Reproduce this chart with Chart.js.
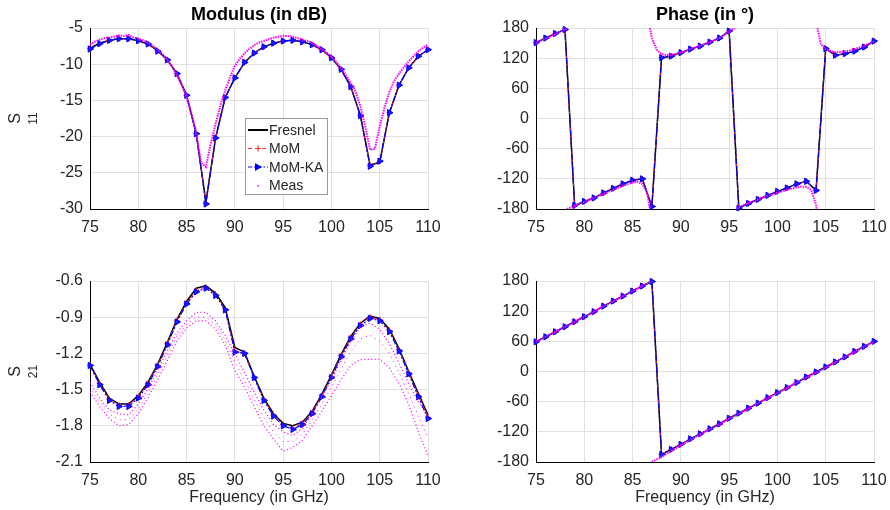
<!DOCTYPE html>
<html>
<head>
<meta charset="utf-8">
<script src="https://cdn.jsdelivr.net/npm/chart.js@4.4.0/dist/chart.umd.min.js"></script>
<style>
    body { margin: 0; width: 890px; height: 510px; background: #fff; position: relative; overflow: hidden; }
    .panel { position: absolute; width: 445px; }
</style>
</head>
<body>
<div class="panel" style="left:0;top:0;height:250px"><canvas id="s11mod"></canvas></div>
<div class="panel" style="left:445px;top:0;height:250px"><canvas id="s11ph"></canvas></div>
<div class="panel" style="left:0;top:250px;height:260px"><canvas id="s21mod"></canvas></div>
<div class="panel" style="left:445px;top:250px;height:260px"><canvas id="s21ph"></canvas></div>
<script>
// simulated frequencies (GHz)
const simFreq = [75, 76, 77, 78, 79, 80, 81, 82, 83, 84, 85, 86, 87, 88, 89, 90, 91, 92,
    93, 94, 95, 96, 97, 98, 99, 100, 101, 102, 103, 104, 105, 106, 107, 108, 109, 110];

// S11 modulus (dB)
const fresnelS11 = [-7.8, -7.1, -6.7, -6.5, -6.5, -6.75, -7.2, -8.1, -9.4, -11.3, -14.3, -19.6, -29.0, -20.2, -14.6, -11.9, -9.75, -8.45,
    -7.6, -7.1, -6.8, -6.7, -6.9, -7.3, -8.0, -9.1, -10.7, -13.1, -17.1, -23.9, -23.6, -16.7, -12.9, -10.5, -8.9, -8.0];
const momS11 = [-7.85, -7.15, -6.7, -6.5, -6.5, -6.75, -7.2, -8.15, -9.4, -11.3, -14.3, -19.6, -29.2, -20.2, -14.6, -11.9, -9.75, -8.45,
    -7.6, -7.1, -6.8, -6.7, -6.9, -7.3, -8.0, -9.1, -10.7, -13.1, -17.1, -24.0, -23.4, -16.7, -12.9, -10.5, -8.9, -8.0];
const momkaS11 = [-7.9, -7.17, -6.71, -6.48, -6.48, -6.75, -7.2, -8.2, -9.4, -11.3, -14.3, -19.6, -29.3, -20.2, -14.6, -11.9, -9.75, -8.46,
    -7.6, -7.1, -6.8, -6.7, -6.9, -7.3, -8.0, -9.1, -10.7, -13.1, -17.1, -24.1, -23.4, -16.7, -12.9, -10.5, -8.9, -8.0];

// S11 phase (deg), same for the three models
const simS11Ph = [151, 160, 169, 177, -173, -165, -158, -148, -139, -130, -123, -120, -175, 121, 124, 131, 138, 144,
    152, 160, 174, -178, -169, -161, -153, -145, -138, -130, -125, -143, 139, 126, 129, 134, 142, 154];

// S21 modulus (dB)
const fresnelS21 = [-1.29, -1.44, -1.57, -1.62, -1.62, -1.55, -1.44, -1.29, -1.11, -0.92, -0.77, -0.66, -0.64, -0.70, -0.82, -1.15, -1.19, -1.39,
    -1.57, -1.70, -1.78, -1.80, -1.77, -1.68, -1.54, -1.38, -1.21, -1.06, -0.95, -0.89, -0.91, -1.00, -1.16, -1.35, -1.53, -1.71];
const momS21 = [-1.30, -1.45, -1.58, -1.63, -1.63, -1.56, -1.45, -1.30, -1.12, -0.93, -0.78, -0.68, -0.65, -0.71, -0.83, -1.18, -1.20, -1.40,
    -1.58, -1.71, -1.79, -1.82, -1.78, -1.69, -1.55, -1.39, -1.22, -1.07, -0.96, -0.90, -0.92, -1.01, -1.17, -1.36, -1.55, -1.73];
const momkaS21 = [-1.30, -1.46, -1.59, -1.64, -1.64, -1.57, -1.46, -1.31, -1.13, -0.94, -0.79, -0.69, -0.66, -0.72, -0.84, -1.19, -1.20, -1.40,
    -1.59, -1.72, -1.80, -1.83, -1.79, -1.70, -1.56, -1.40, -1.23, -1.08, -0.97, -0.91, -0.93, -1.02, -1.18, -1.37, -1.56, -1.74];

// S21 phase (deg)
const simS21Ph = [59, 69, 79, 89, 99, 109, 119, 130, 140, 150, 160, 170, 179, -165, -155, -145, -134, -124,
    -114, -104, -93, -83, -73, -63, -52, -42, -32, -22, -11, -1, 9, 19, 29, 40, 50, 60];

// measurement
const measFreq = [75, 75.5, 76, 76.5, 77, 77.5, 78, 78.5, 79, 79.5, 80, 80.5, 81, 81.5, 82, 82.5, 83, 83.5, 84, 84.5,
    85, 85.5, 86, 86.5, 87, 87.5, 88, 88.5, 89, 89.5, 90, 90.5, 91, 91.5, 92, 92.5, 93, 93.5, 94, 94.5,
    95, 95.5, 96, 96.5, 97, 97.5, 98, 98.5, 99, 99.5, 100, 100.5, 101, 101.5, 102, 102.5, 103, 103.5, 104, 104.5,
    105, 105.5, 106, 106.5, 107, 107.5, 108, 108.5, 109, 109.5, 110];
const measS11 = [-7.3, -6.9, -6.6, -6.4, -6.3, -6.2, -6.0, -6.1, -5.95, -6.3, -6.5, -6.7, -7.0, -7.4, -8.0, -8.6, -9.4, -10.3, -11.5, -12.9,
    -14.5, -16.8, -19.5, -23.6, -24.2, -21.0, -18.3, -15.7, -13.6, -11.8, -10.2, -9.3, -8.5, -7.9, -7.4, -7.0, -6.8, -6.55, -6.35, -6.2,
    -6.1, -6.1, -6.2, -6.4, -6.6, -6.8, -7.1, -7.5, -7.9, -8.4, -9.0, -9.7, -10.5, -11.5, -12.6, -13.8, -15.8, -18.6, -21.8, -21.7,
    -18.6, -16.0, -13.8, -12.3, -11.3, -10.4, -9.6, -8.9, -8.2, -7.7, -7.3];

const measS11PhFreq = [75, 76, 77, 78, 78.2, 78.2, 78.2, 79, 80, 81, 82, 83, 84, 85, 85.5, 86, 86.5, 86.8, 86.8, 86.8,
    87, 87.5, 88, 88.5, 89, 90, 91, 92, 93, 94, 95, 95.6, 95.7, 95.8, 96, 97, 98, 99, 100, 101,
    102, 102.5, 103, 103.5, 104, 104.05, 104.1, 104.15, 104.3, 104.5, 105, 105.5, 106, 107, 108, 109, 110];
const measS11Ph = [150, 159, 168, 177, 180, null, -180, -174, -166, -158, -150, -142, -134, -127, -126, -130, -148, -180, null, 180,
    160, 137, 128, 126, 127, 131, 138, 145, 152, 160, 173, 180, null, -180, -176, -168, -161, -154, -148, -142,
    -137, -135.5, -136, -142, -172, -180, null, 180, 165, 148, 138, 134, 132, 133, 138, 145, 153];

// S21 measured cloud: upper band, middle band, lower band
const measS21Up = [-1.44, -1.57, -1.67, -1.70, -1.71, -1.62, -1.49, -1.34, -1.18, -1.03, -0.93, -0.86, -0.86, -0.93, -1.05, -1.20, -1.36, -1.52,
    -1.67, -1.79, -1.85, -1.88, -1.82, -1.70, -1.56, -1.42, -1.26, -1.10, -0.98, -0.95, -1.00, -1.12, -1.28, -1.45, -1.60, -1.72];
const measS21Mid = [-1.48, -1.60, -1.70, -1.75, -1.75, -1.66, -1.53, -1.38, -1.22, -1.06, -0.96, -0.90, -0.90, -0.96, -1.09, -1.27, -1.42, -1.58,
    -1.73, -1.85, -1.93, -1.93, -1.87, -1.75, -1.62, -1.48, -1.33, -1.18, -1.08, -1.05, -1.10, -1.20, -1.36, -1.53, -1.72, -1.90];
const measS21Low = [-1.52, -1.64, -1.74, -1.80, -1.79, -1.70, -1.57, -1.42, -1.26, -1.10, -0.99, -0.93, -0.93, -1.00, -1.13, -1.34, -1.48, -1.64,
    -1.80, -1.91, -2.01, -1.98, -1.92, -1.80, -1.68, -1.55, -1.42, -1.30, -1.25, -1.25, -1.25, -1.32, -1.45, -1.62, -1.85, -2.05];

const measS21PhFreq = [75, 76, 77, 78, 79, 80, 81, 82, 83, 84, 85, 86, 87, 87, 87, 88, 89, 90, 91, 92,
    93, 94, 95, 96, 97, 98, 99, 100, 101, 102, 103, 104, 105, 106, 107, 108, 109, 110];
const measS21Ph = [59, 69, 79, 89, 99, 109, 119, 130, 140, 150, 160, 170, 180, null, -180, -170, -158, -147, -136, -125,
    -115, -105, -94, -84, -74, -63, -53, -43, -33, -22, -12, -2, 8, 18, 29, 39, 49, 60];

const xTicks = [75, 80, 85, 90, 95, 100, 105, 110];
const s11ModTicks = [-30, -25, -20, -15, -10, -5];
const phaseTicks = [-180, -120, -60, 0, 60, 120, 180];
const s21ModTicks = [-2.1, -1.8, -1.5, -1.2, -0.9, -0.6];

const FONT = '"Liberation Sans", Arial, Helvetica, sans-serif';
const TXT = '#262626';
const GRID = '#e1e1e1';
Chart.defaults.font.family = FONT;
Chart.defaults.font.size = 16;
Chart.defaults.color = TXT;

function pts(xs, ys) {
    return xs.map((x, i) => ({ x: x, y: ys[i] }));
}

function fresnelSet(ys) {
    return { data: pts(simFreq, ys), borderColor: '#000', borderWidth: 1.5, pointRadius: 0, order: 3, clip: false };
}
function momSet(ys) {
    return { data: pts(simFreq, ys), borderColor: '#ff2020', borderWidth: 1, borderDash: [5, 3],
        pointStyle: 'cross', pointRadius: 3, pointBorderColor: '#ff2020', pointBorderWidth: 1, order: 2, clip: false };
}
function momkaSet(ys) {
    return { data: pts(simFreq, ys), borderColor: '#0000ff', borderWidth: 1.2, borderDash: [6, 2, 2, 2],
        pointStyle: 'triangle', rotation: 90, pointRadius: 3.6, pointBackgroundColor: '#1a1aff',
        pointBorderColor: '#0000ff', pointBorderWidth: 1, order: 1, clip: false };
}
function measSet(xs, ys, opts) {
    return Object.assign({ data: pts(xs, ys), borderColor: '#ff00ff', borderWidth: 2, borderDash: [1.5, 1],
        pointRadius: 0, order: 0, spanGaps: false }, opts || {});
}

// titles, subscripted y labels, x label and the inset legend
const decor = {
    id: 'decor',
    afterDraw(chart, args, o) {
        const ctx = chart.ctx;
        const a = chart.chartArea;
        const cx = (a.left + a.right) / 2;
        const cy = (a.top + a.bottom) / 2;
        ctx.save();
        ctx.fillStyle = '#000';
        ctx.textAlign = 'center';
        ctx.textBaseline = 'middle';
        if (o.title) {
            ctx.font = 'bold 18px ' + FONT;
            ctx.fillText(o.title, cx, 15);
        }
        if (o.ylab) {
            ctx.fillStyle = TXT;
            ctx.save();
            ctx.translate(16, cy);
            ctx.rotate(-Math.PI / 2);
            ctx.font = '16px ' + FONT;
            ctx.fillText('S', 0, 0);
            ctx.restore();
            ctx.save();
            ctx.translate(34, cy);
            ctx.rotate(-Math.PI / 2);
            ctx.font = '12px ' + FONT;
            ctx.fillText(o.ylab, 0, 0);
            ctx.restore();
        }
        if (o.xlab) {
            ctx.fillStyle = TXT;
            ctx.font = '16px ' + FONT;
            ctx.fillText(o.xlab, cx, 248);
        }
        if (o.legend) {
            const L = 245.5, T = 118.5, W = 82, H = 76;
            ctx.fillStyle = '#fff';
            ctx.fillRect(L, T, W, H);
            ctx.strokeStyle = '#9a9a9a';
            ctx.lineWidth = 1;
            ctx.strokeRect(L, T, W, H);
            const rows = [130, 148.5, 167, 185.5];
            const names = ['Fresnel', 'MoM', 'MoM-KA', 'Meas'];
            ctx.font = '14px ' + FONT;
            ctx.textAlign = 'left';
            names.forEach((n, i) => {
                ctx.fillStyle = TXT;
                ctx.fillText(n, 269, rows[i] + 1);
            });
            // Fresnel
            ctx.strokeStyle = '#000';
            ctx.lineWidth = 2;
            ctx.beginPath(); ctx.moveTo(248, rows[0]); ctx.lineTo(268, rows[0]); ctx.stroke();
            // MoM
            ctx.strokeStyle = '#ff3030';
            ctx.lineWidth = 1.2;
            ctx.setLineDash([4, 3]);
            ctx.beginPath(); ctx.moveTo(248, rows[1]); ctx.lineTo(268, rows[1]); ctx.stroke();
            ctx.setLineDash([]);
            ctx.beginPath(); ctx.moveTo(255, rows[1]); ctx.lineTo(261, rows[1]);
            ctx.moveTo(258, rows[1] - 3); ctx.lineTo(258, rows[1] + 3); ctx.stroke();
            // MoM-KA
            ctx.strokeStyle = '#0000ff';
            ctx.setLineDash([4, 2, 1.5, 2]);
            ctx.beginPath(); ctx.moveTo(248, rows[2]); ctx.lineTo(268, rows[2]); ctx.stroke();
            ctx.setLineDash([]);
            ctx.fillStyle = '#0000ff';
            ctx.beginPath(); ctx.moveTo(262, rows[2]); ctx.lineTo(255, rows[2] - 4); ctx.lineTo(255, rows[2] + 4); ctx.closePath(); ctx.fill();
            // Meas
            ctx.fillStyle = '#ff00ff';
            ctx.fillRect(257.5, rows[3] - 0.5, 1.5, 1.5);
        }
        ctx.restore();
    }
};

function makeChart(id, datasets, y, box) {
    return new Chart(document.getElementById(id), {
        type: 'line',
        data: { datasets: datasets },
        plugins: [decor],
        options: {
            animation: false,
            responsive: true,
            maintainAspectRatio: false,
            events: [],
            layout: { autoPadding: false, padding: { left: 0, right: box.right, top: box.top, bottom: 0 } },
            plugins: {
                legend: { display: false },
                tooltip: { enabled: false },
                decor: box.decor
            },
            scales: {
                x: {
                    type: 'linear', min: 75, max: 110,
                    afterBuildTicks: s => { s.ticks = xTicks.map(v => ({ value: v })); },
                    ticks: { padding: 9, maxRotation: 0, autoSkip: false, color: TXT },
                    grid: { color: GRID, drawTicks: false },
                    border: { color: '#000', width: 1 },
                    afterFit: s => { s.height = box.xh; s.paddingLeft = 0; s.paddingRight = 0; }
                },
                y: {
                    min: y.min, max: y.max,
                    afterBuildTicks: s => { s.ticks = y.ticks.map(v => ({ value: v })); },
                    ticks: { padding: 7, color: TXT, callback: v => y.fmt ? v.toFixed(1) : String(v) },
                    grid: { color: GRID, drawTicks: false },
                    border: { color: '#000', width: 1 },
                    afterFit: s => { s.width = box.yw; s.paddingTop = 0; s.paddingBottom = 0; }
                }
            }
        }
    });
}

makeChart('s11mod', [
    fresnelSet(fresnelS11), momSet(momS11), momkaSet(momkaS11), measSet(measFreq, measS11)
], { min: -30, max: -5, ticks: s11ModTicks }, { top: 28, right: 17, xh: 41, yw: 90,
    decor: { title: 'Modulus (in dB)', ylab: '11', legend: true } });

makeChart('s11ph', [
    fresnelSet(simS11Ph), momSet(simS11Ph), momkaSet(simS11Ph), measSet(measS11PhFreq, measS11Ph)
], { min: -180, max: 180, ticks: phaseTicks }, { top: 28, right: 16, xh: 41, yw: 91,
    decor: { title: 'Phase (in \u00b0)' } });

const cloud = { borderWidth: 1.3, borderDash: [1, 2.5] };
makeChart('s21mod', [
    fresnelSet(fresnelS21), momSet(momS21), momkaSet(momkaS21),
    measSet(simFreq, measS21Up, cloud),
    measSet(simFreq, measS21Mid, { borderWidth: 1, borderDash: [1, 4] }),
    measSet(simFreq, measS21Low, cloud)
], { min: -2.1, max: -0.6, ticks: s21ModTicks, fmt: true }, { top: 31, right: 17, xh: 48, yw: 90,
    decor: { ylab: '21', xlab: 'Frequency (in GHz)' } });

makeChart('s21ph', [
    fresnelSet(simS21Ph), momSet(simS21Ph), momkaSet(simS21Ph), measSet(measS21PhFreq, measS21Ph)
], { min: -180, max: 180, ticks: phaseTicks }, { top: 31, right: 16, xh: 48, yw: 91,
    decor: { xlab: 'Frequency (in GHz)' } });
</script>
</body>
</html>
